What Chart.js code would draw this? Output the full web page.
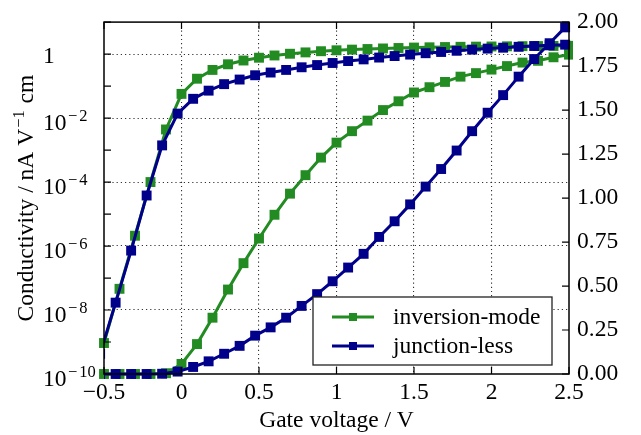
<!DOCTYPE html>
<html><head><meta charset="utf-8">
<script src="https://cdn.jsdelivr.net/npm/chart.js@4/dist/chart.umd.min.js"></script>
<style>html,body{margin:0;padding:0;background:#fff;overflow:hidden}#wrap{width:641px;height:435px;position:relative}</style>
</head><body><div id="wrap"><canvas id="c" width="641" height="435"></canvas></div>
<script>
// ---- data ----
const voltageInversion = [-0.5,-0.4,-0.3,-0.2,-0.1,0,0.1,0.2,0.3,0.4,0.5,0.6,0.7,0.8,0.9,1.0,1.1,1.2,1.3,1.4,1.5,1.6,1.7,1.8,1.9,2.0,2.1,2.2,2.3,2.4,2.5];
const conductivityInversion = [9.3e-10,4.6e-8,2.1e-6,1.0e-4,4.4e-3,0.057,0.17,0.32,0.48,0.63,0.77,0.905,1.025,1.13,1.23,1.315,1.38,1.44,1.50,1.55,1.60,1.63,1.66,1.69,1.71,1.73,1.75,1.77,1.78,1.80,1.815];
const voltageJunctionless = [-0.525,-0.425,-0.325,-0.225,-0.125,-0.025,0.075,0.175,0.275,0.375,0.475,0.575,0.675,0.775,0.875,0.975,1.075,1.175,1.275,1.375,1.475,1.575,1.675,1.775,1.875,1.975,2.075,2.175,2.275,2.375,2.475];
const conductivityJunctionless = [4.3e-10,1.7e-8,7.2e-7,3.8e-5,1.4e-3,0.0138,0.04,0.072,0.115,0.16,0.218,0.265,0.32,0.387,0.454,0.527,0.605,0.683,0.779,0.868,0.964,1.065,1.165,1.27,1.38,1.485,1.585,1.69,1.79,1.88,1.97];
const seriesLabels = ['inversion-mode','junction-less'];
const xTicks = [-0.5,0,0.5,1,1.5,2,2.5];
const xTickLabels = ['\u22120.5','0','0.5','1','1.5','2','2.5'];
const logTicks = [1e-10,1e-9,1e-8,1e-7,1e-6,1e-5,1e-4,1e-3,1e-2,1e-1,1,10];
// [base, exponent] for each log tick (null = unlabelled minor tick)
const logTickLabels = [['10','10'],null,['10','8'],null,['10','6'],null,['10','4'],null,['10','2'],null,['1',null],null];
const linTicks = [0,0.25,0.5,0.75,1,1.25,1.5,1.75,2];
const linTickLabels = ['0.00','0.25','0.50','0.75','1.00','1.25','1.50','1.75','2.00'];
const xTitle = 'Gate voltage / V';
const yTitleParts = ['Conductivity / nA V', '\u22121', ' cm'];

const GREEN = '#228b22', BLUE = '#00008b';
const FONT = '"Liberation Serif", "Times New Roman", serif';
const FS = 23.5, FSS = 16.5;

function pts(xs, ys){ return xs.map((x,i)=>({x:x, y:ys[i]})); }

const frameTicks = {
  id:'frameTicks',
  afterDraw(chart){
    const ctx = chart.ctx, a = chart.chartArea, s = chart.scales;
    const TL = 7;
    ctx.save();
    ctx.strokeStyle = '#000'; ctx.lineWidth = 1.2;
    ctx.beginPath();
    xTicks.forEach(v=>{ const p = s.x.getPixelForValue(v);
      ctx.moveTo(p,a.bottom); ctx.lineTo(p,a.bottom-TL);
      ctx.moveTo(p,a.top); ctx.lineTo(p,a.top+TL); });
    logTicks.forEach(v=>{ const p = s.yLog.getPixelForValue(v);
      ctx.moveTo(a.left,p); ctx.lineTo(a.left+TL,p); });
    linTicks.forEach(v=>{ const p = s.yLin.getPixelForValue(v);
      ctx.moveTo(a.right,p); ctx.lineTo(a.right-TL,p); });
    ctx.stroke();
    ctx.lineWidth = 1.5;
    ctx.strokeRect(a.left, a.top, a.right-a.left, a.bottom-a.top);

    // left (log) tick labels: base + raised exponent with minus
    const big = FS + 'px ' + FONT, small = FSS + 'px ' + FONT;
    ctx.fillStyle = '#000'; ctx.textAlign = 'left'; ctx.textBaseline = 'alphabetic';
    logTicks.forEach((v,i)=>{
      const lab = logTickLabels[i]; if (!lab) return;
      const p = s.yLog.getPixelForValue(v);
      const x0 = 43;
      ctx.font = big;
      if (lab[1] === null) { ctx.fillText(lab[0], x0, p + 8.5); return; }
      ctx.fillText(lab[0], x0, p + 12);
      let x = x0 + ctx.measureText(lab[0]).width + 0.5;
      ctx.font = small;
      ctx.fillText('\u2212', x + 1, p + 3);
      x += ctx.measureText('\u2212').width + 3;
      ctx.fillText(lab[1], x, p + 3);
    });

    // legend
    const lx = 313, ly = 297, lw = 239, lh = 68;
    ctx.fillStyle = '#fff'; ctx.fillRect(lx,ly,lw,lh);
    ctx.strokeStyle = '#222'; ctx.lineWidth = 1.3; ctx.strokeRect(lx,ly,lw,lh);
    const rows = [{c:GREEN, t:seriesLabels[0], y:317},{c:BLUE, t:seriesLabels[1], y:346}];
    ctx.font = big; ctx.textBaseline = 'middle'; ctx.textAlign = 'left';
    rows.forEach(r=>{
      ctx.strokeStyle = r.c; ctx.lineWidth = 3;
      ctx.beginPath(); ctx.moveTo(332,r.y); ctx.lineTo(374,r.y); ctx.stroke();
      ctx.fillStyle = r.c; ctx.fillRect(349,r.y-4,8,8);
      ctx.fillStyle = '#000'; ctx.fillText(r.t, 393, r.y+1);
    });

    // y title with superscript
    ctx.save();
    ctx.translate(33, (a.top+a.bottom)/2);
    ctx.rotate(-Math.PI/2);
    ctx.textBaseline = 'alphabetic'; ctx.fillStyle = '#000';
    ctx.font = big; const w0 = ctx.measureText(yTitleParts[0]).width;
    const w2 = ctx.measureText(yTitleParts[2]).width;
    ctx.font = small; const w1 = ctx.measureText(yTitleParts[1]).width;
    let x0 = -(w0+w1+w2+2)/2;
    ctx.font = big; ctx.fillText(yTitleParts[0], x0, 0);
    ctx.font = small; ctx.fillText(yTitleParts[1], x0+w0+1, -9);
    ctx.font = big; ctx.fillText(yTitleParts[2], x0+w0+w1+2, 0);
    ctx.restore();
    ctx.restore();
  }
};

const gridColorX = ctx => (ctx.tick && ctx.tick.value > -0.49 && ctx.tick.value < 2.49) ? '#333' : 'rgba(0,0,0,0)';
const gridColorLog = ctx => {
  if (!ctx.tick) return 'rgba(0,0,0,0)';
  const e = Math.round(Math.log10(ctx.tick.value));
  return (e % 2 === 0 && e >= -8 && e <= 0) ? '#333' : 'rgba(0,0,0,0)';
};

const common = { borderWidth: 3, pointStyle:'rect', pointRadius: 7, pointBorderWidth:0 };

new Chart(document.getElementById('c'), {
  type: 'line',
  data: { datasets: [
    Object.assign({ label: seriesLabels[1], data: pts(voltageJunctionless, conductivityJunctionless), yAxisID:'yLog',
      borderColor: BLUE, backgroundColor: BLUE, order: 0, clip: {left:0, top:5, right:5, bottom:5} }, common),
    Object.assign({ label: seriesLabels[1], data: pts(voltageJunctionless, conductivityJunctionless), yAxisID:'yLin',
      borderColor: BLUE, backgroundColor: BLUE, order: 0, clip: {left:0, top:5, right:5, bottom:5} }, common),
    Object.assign({ label: seriesLabels[0], data: pts(voltageInversion, conductivityInversion), yAxisID:'yLog',
      borderColor: GREEN, backgroundColor: GREEN, order: 1, clip: {left:5, top:5, right:4, bottom:5} }, common),
    Object.assign({ label: seriesLabels[0], data: pts(voltageInversion, conductivityInversion), yAxisID:'yLin',
      borderColor: GREEN, backgroundColor: GREEN, order: 1, clip: {left:5, top:5, right:4, bottom:5} }, common)
  ]},
  options: {
    responsive: false, animation: false, devicePixelRatio: 1,
    layout: { padding: { left: 43, top: 16, right: 0, bottom: 0 } },
    plugins: { legend: { display: false }, tooltip: { enabled: false } },
    elements: { line: { tension: 0 } },
    scales: {
      x: { type:'linear', position:'bottom', min:-0.5, max:2.5,
        afterBuildTicks: sc => { sc.ticks = xTicks.map(v=>({value:v})); },
        afterFit: sc => { sc.height = 61; },
        ticks: { callback: (v,i) => xTickLabels[i], color:'#000', font:{family:FONT, size:FS}, padding:5, maxRotation:0, autoSkip:false },
        grid: { color: gridColorX, lineWidth: 1.1, drawTicks:false },
        border: { display:false, dash:[1.2,3] },
        title: { display:true, text:xTitle, color:'#000', font:{family:FONT, size:FS}, padding:{top:0,bottom:0} } },
      yLog: { type:'logarithmic', position:'left', min:1e-10, max:10,
        afterBuildTicks: sc => { sc.ticks = logTicks.map(v=>({value:v})); },
        afterFit: sc => { sc.width = 61; },
        ticks: { display:false },
        grid: { color: gridColorLog, lineWidth: 1.1, drawTicks:false },
        border: { display:false, dash:[1.2,3] } },
      yLin: { type:'linear', position:'right', min:0, max:2,
        afterBuildTicks: sc => { sc.ticks = linTicks.map(v=>({value:v})); },
        afterFit: sc => { sc.width = 72; },
        ticks: { callback: (v,i) => linTickLabels[i], color:'#000', font:{family:FONT, size:FS}, padding:8, autoSkip:false },
        grid: { display:false, drawTicks:false },
        border: { display:false } }
    }
  },
  plugins: [frameTicks]
});
</script></body></html>
